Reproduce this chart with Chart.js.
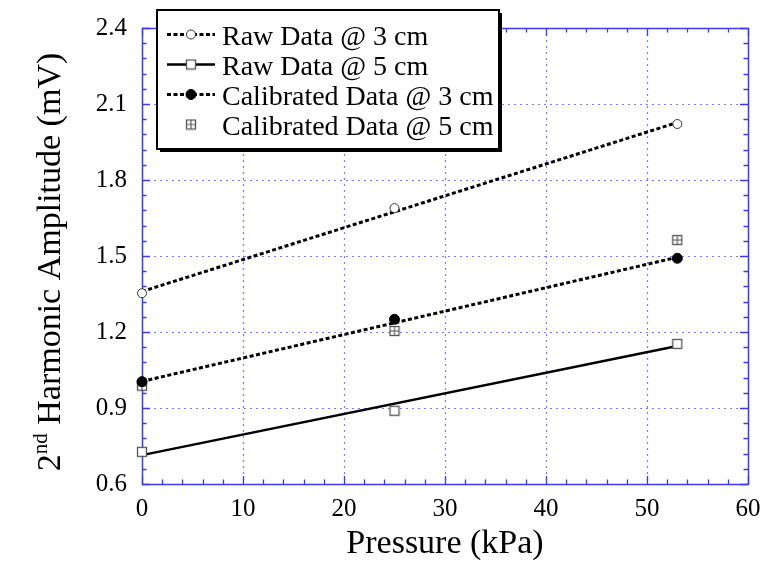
<!DOCTYPE html>
<html>
<head>
<meta charset="utf-8">
<script src="https://cdn.jsdelivr.net/npm/chart.js@4"></script>
<style>
html,body{margin:0;padding:0;background:#fff;}
#wrap{width:765px;height:572px;}
</style>
</head>
<body>
<div id="wrap"><canvas id="c" width="765" height="572"></canvas></div>
<script>
// ---- data ----
const pressure = [0, 25, 53];
const raw3cm = [1.353, 1.689, 2.021];
const raw5cm = [0.727, 0.889, 1.153];
const cal3cm = [1.004, 1.250, 1.491];
const cal5cm = [0.988, 1.204, 1.563];
// fitted straight lines drawn in the reference (end points)
const fitPressure = [0, 53];
const raw3cmFit = [1.360, 2.027];
const raw5cmFit = [0.714, 1.145];
const cal3cmFit = [1.005, 1.495];
const seriesLabels = ['Raw Data @ 3 cm', 'Raw Data @ 5 cm', 'Calibrated Data @ 3 cm', 'Calibrated Data @ 5 cm'];
const xTitle = 'Pressure (kPa)';
const yTitleParts = ['2', 'nd', ' Harmonic Amplitude (mV)'];
const xRange = [0, 60], xStep = 10;
const yRange = [0.6, 2.4], yStep = 0.3;

const SERIF = '"Liberation Serif", "Times New Roman", serif';
const FRAME = '#3a3af0';
const GRID = '#7b7bff';

function toXY(xs, ys){ return xs.map((x,i)=>({x:x, y:ys[i]})); }

function makeSquare(cross){
  const c = document.createElement('canvas');
  c.width = 12; c.height = 12;
  const g = c.getContext('2d');
  g.fillStyle = '#fff';
  g.fillRect(1.5,1.5,9,9);
  g.strokeStyle = '#555';
  g.lineWidth = 1.3;
  g.strokeRect(1.5,1.5,9,9);
  if (cross){
    g.beginPath();
    g.moveTo(6,1.5); g.lineTo(6,10.5);
    g.moveTo(1.5,6); g.lineTo(10.5,6);
    g.lineWidth = 1.1;
    g.stroke();
  }
  return c;
}
const squareImg = makeSquare(false);
const crossImg = makeSquare(true);

const lineDash = [4, 2.5];

const datasets = [
  {label:'fit3raw', data: toXY(fitPressure, raw3cmFit), borderColor:'#000', borderWidth:3, borderDash:lineDash, pointRadius:0, showLine:true, order:10, clip:false},
  {label:'fit5raw', data: toXY(fitPressure, raw5cmFit), borderColor:'#000', borderWidth:2.5, pointRadius:0, showLine:true, order:10, clip:false},
  {label:'fit3cal', data: toXY(fitPressure, cal3cmFit), borderColor:'#000', borderWidth:3, borderDash:lineDash, pointRadius:0, showLine:true, order:10, clip:false},
  {label: seriesLabels[0], data: toXY(pressure, raw3cm), showLine:false, pointStyle:'circle', pointRadius:4.5, pointBackgroundColor:'#fff', pointBorderColor:'#333', pointBorderWidth:1, order:1, clip:false},
  {label: seriesLabels[1], data: toXY(pressure, raw5cm), showLine:false, pointStyle:squareImg, order:1, clip:false},
  {label: seriesLabels[2], data: toXY(pressure, cal3cm), showLine:false, pointStyle:'circle', pointRadius:5, pointBackgroundColor:'#000', pointBorderColor:'#000', pointBorderWidth:1, order:1, clip:false},
  {label: seriesLabels[3], data: toXY(pressure, cal5cm), showLine:false, pointStyle:crossImg, order:1, clip:false}
];

const frameGridPlugin = {
  id:'frameGrid',
  beforeDatasetsDraw(chart){
    const {ctx, chartArea:a, scales:{x, y}} = chart;
    ctx.save();
    // dotted grid
    ctx.strokeStyle = GRID; ctx.lineWidth = 1.2; ctx.setLineDash([2,4]);
    x.ticks.forEach(t=>{
      if (t.value <= xRange[0] || t.value >= xRange[1]) return;
      const px = Math.round(x.getPixelForValue(t.value)) + 0.5;
      ctx.beginPath(); ctx.moveTo(px, a.top); ctx.lineTo(px, a.bottom); ctx.stroke();
    });
    y.ticks.forEach(t=>{
      if (t.value <= yRange[0] + 1e-9 || t.value >= yRange[1] - 1e-9) return;
      const py = Math.round(y.getPixelForValue(t.value)) + 0.5;
      ctx.beginPath(); ctx.moveTo(a.left, py); ctx.lineTo(a.right, py); ctx.stroke();
    });
    ctx.setLineDash([]);
    // minor + major tick marks on all four sides
    ctx.strokeStyle = FRAME; ctx.lineWidth = 1.3;
    const nx = Math.round((xRange[1]-xRange[0]) / xStep) * 5;
    for (let i = 0; i <= nx; i++){
      const v = xRange[0] + i * xStep / 5;
      const len = (i % 5 === 0) ? 8 : 4.5;
      const px = Math.round(x.getPixelForValue(v)) + 0.5;
      ctx.beginPath();
      ctx.moveTo(px, a.bottom); ctx.lineTo(px, a.bottom - len);
      ctx.moveTo(px, a.top); ctx.lineTo(px, a.top + len);
      ctx.stroke();
    }
    const ny = Math.round((yRange[1]-yRange[0]) / yStep) * 5;
    for (let i = 0; i <= ny; i++){
      const v = yRange[0] + i * yStep / 5;
      const len = (i % 5 === 0) ? 8 : 4.5;
      const py = Math.round(y.getPixelForValue(v)) + 0.5;
      ctx.beginPath();
      ctx.moveTo(a.left, py); ctx.lineTo(a.left + len, py);
      ctx.moveTo(a.right, py); ctx.lineTo(a.right - len, py);
      ctx.stroke();
    }
    // frame
    ctx.lineWidth = 1.5;
    ctx.strokeRect(Math.round(a.left)+0.5, Math.round(a.top)+0.5, Math.round(a.right-a.left), Math.round(a.bottom-a.top));
    ctx.restore();
  }
};

const titlesLegendPlugin = {
  id:'titlesLegend',
  afterDraw(chart){
    const {ctx, chartArea:a} = chart;
    ctx.save();
    ctx.fillStyle = '#000';
    // x title
    ctx.font = '34px ' + SERIF;
    ctx.textAlign = 'center'; ctx.textBaseline = 'alphabetic';
    ctx.fillText(xTitle, (a.left + a.right) / 2, 553);
    // y title (rotated, with superscript)
    const big = '34px ' + SERIF, small = '21px ' + SERIF;
    ctx.font = big; const w0 = ctx.measureText(yTitleParts[0]).width;
    ctx.font = small; const w1 = ctx.measureText(yTitleParts[1]).width;
    ctx.font = big; const w2 = ctx.measureText(yTitleParts[2]).width;
    const total = w0 + w1 + w2;
    ctx.translate(60, 262);
    ctx.rotate(-Math.PI / 2);
    ctx.textAlign = 'left';
    let cx = -total / 2;
    ctx.font = big; ctx.fillText(yTitleParts[0], cx, 0); cx += w0;
    ctx.font = small; ctx.fillText(yTitleParts[1], cx, -13); cx += w1;
    ctx.font = big; ctx.fillText(yTitleParts[2], cx, 0);
    ctx.setTransform(1,0,0,1,0,0);

    // legend box
    const bx = 157, by = 10, bw = 342, bh = 139;
    ctx.fillStyle = '#000';
    ctx.fillRect(bx + 3, by + 3, bw, bh);
    ctx.fillStyle = '#fff';
    ctx.fillRect(bx, by, bw, bh);
    ctx.strokeStyle = '#000'; ctx.lineWidth = 2;
    ctx.strokeRect(bx, by, bw, bh);
    const items = [
      {line: chart.data.datasets[0], point: chart.data.datasets[3]},
      {line: chart.data.datasets[1], point: chart.data.datasets[4]},
      {line: chart.data.datasets[2], point: chart.data.datasets[5]},
      {line: null, point: chart.data.datasets[6]}
    ];
    items.forEach((it, i) => {
      const cy = 34.5 + i * 30;
      if (it.line){
        ctx.save();
        ctx.strokeStyle = it.line.borderColor;
        ctx.lineWidth = it.line.borderWidth;
        ctx.setLineDash(it.line.borderDash || []);
        ctx.beginPath(); ctx.moveTo(167, cy); ctx.lineTo(215, cy); ctx.stroke();
        ctx.restore();
      }
      const p = it.point;
      const mx = 191;
      if (typeof p.pointStyle === 'string'){
        ctx.beginPath(); ctx.arc(mx, cy, p.pointRadius, 0, Math.PI * 2);
        ctx.fillStyle = p.pointBackgroundColor; ctx.fill();
        ctx.lineWidth = p.pointBorderWidth; ctx.strokeStyle = p.pointBorderColor; ctx.stroke();
      } else {
        ctx.drawImage(p.pointStyle, mx - 6, cy - 6);
      }
      ctx.fillStyle = '#000';
      ctx.font = '28px ' + SERIF;
      ctx.textAlign = 'left'; ctx.textBaseline = 'alphabetic';
      ctx.fillText(p.label, 222, cy + 10);
    });
    ctx.restore();
  }
};

new Chart(document.getElementById('c'), {
  type: 'scatter',
  data: { datasets: datasets },
  options: {
    responsive: false,
    animation: false,
    layout: { padding: { left: 0, right: 17, top: 28, bottom: 0 } },
    plugins: { legend: { display: false }, tooltip: { enabled: false } },
    scales: {
      x: {
        type: 'linear', min: xRange[0], max: xRange[1],
        grid: { display: false, drawTicks: false },
        border: { display: false },
        ticks: { stepSize: xStep, color: '#000', font: { family: SERIF, size: 25 }, padding: 10, maxRotation: 0,
                 callback: v => String(v) },
        afterFit: s => { s.height = 88; s.paddingLeft = 0; s.paddingRight = 0; }
      },
      y: {
        type: 'linear', min: yRange[0], max: yRange[1],
        grid: { display: false, drawTicks: false },
        border: { display: false },
        ticks: { stepSize: yStep, color: '#000', font: { family: SERIF, size: 25 }, padding: 15,
                 callback: v => Number(v).toFixed(1) },
        afterFit: s => { s.width = 142; s.paddingTop = 0; s.paddingBottom = 0; }
      }
    }
  },
  plugins: [frameGridPlugin, titlesLegendPlugin]
});
</script>
</body>
</html>
